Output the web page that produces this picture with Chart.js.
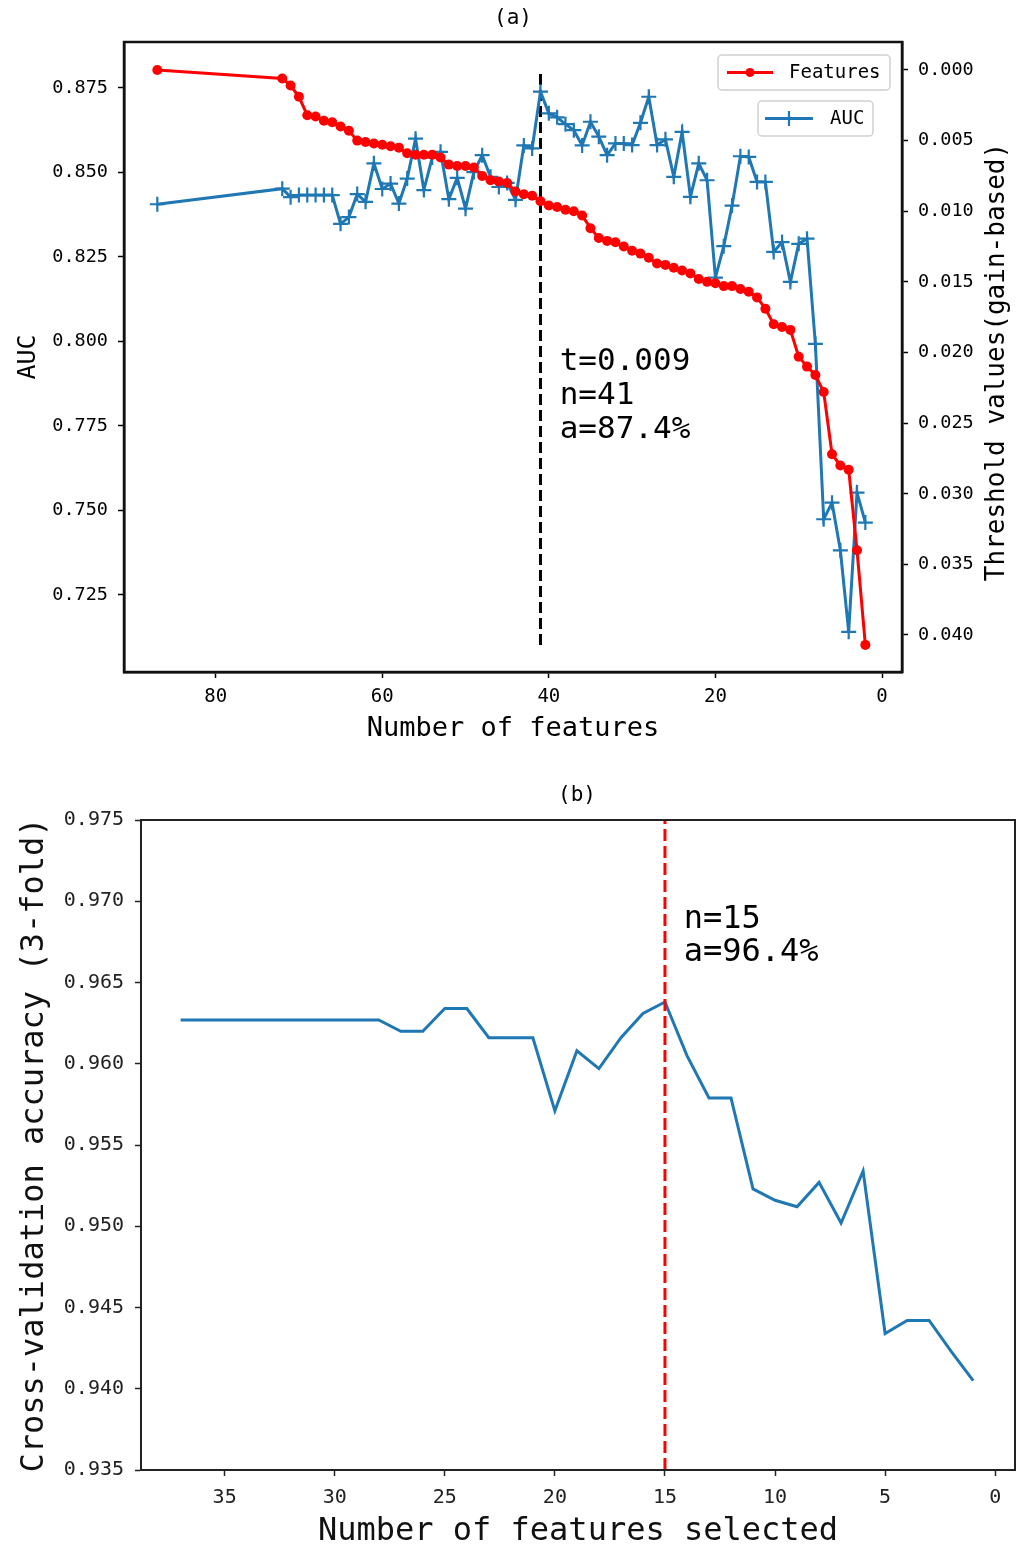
<!DOCTYPE html>
<html>
<head>
<meta charset="utf-8">
<script src="https://cdn.jsdelivr.net/npm/chart.js@4.4.0/dist/chart.umd.min.js"></script>
<style>
  html, body { margin: 0; padding: 0; background: #fff; }
  #wrap { position: relative; width: 1027px; height: 1548px; }
  #top-chart { position: absolute; left: 0; top: 0; }
  #bottom-chart { position: absolute; left: 0; top: 770px; }
</style>
</head>
<body>
<div id="wrap">
  <canvas id="top-chart" width="1027" height="760"></canvas>
  <canvas id="bottom-chart" width="1027" height="778"></canvas>
</div>
<script>
// (a) feature-importance threshold sweep, (b) RFE cross-validation curve

// --- (a) data ---
const featureCounts = [87, 72, 71, 70, 69, 68, 67, 66, 65, 64, 63, 62, 61, 60, 59, 58, 57, 56, 55, 54,
  53, 52, 51, 50, 49, 48, 47, 46, 45, 44, 43, 42, 41, 40, 39, 38, 37, 36, 35, 34,
  33, 32, 31, 30, 29, 28, 27, 26, 25, 24, 23, 22, 21, 20, 19, 18, 17, 16, 15, 14,
  13, 12, 11, 10, 9, 8, 7, 6, 5, 4, 3, 2];

// threshold values (gain-based), right axis
const thresholds = [0.0000, 0.0006, 0.0011, 0.0019, 0.0032, 0.0033, 0.0036, 0.0037, 0.0040, 0.0043,
  0.0050, 0.0051, 0.0052, 0.0053, 0.0054, 0.0055, 0.0059, 0.0060, 0.0060, 0.0060,
  0.0062, 0.0067, 0.0068, 0.0068, 0.0069, 0.0075, 0.0078, 0.0079, 0.0080, 0.0086,
  0.0088, 0.0089, 0.0093, 0.0096, 0.0097, 0.0099, 0.0100, 0.0103, 0.0112, 0.0119,
  0.0121, 0.0122, 0.0125, 0.0128, 0.0130, 0.0133, 0.0137, 0.0138, 0.0140, 0.0142,
  0.0144, 0.0148, 0.0150, 0.0151, 0.0153, 0.0153, 0.0155, 0.0157, 0.0161, 0.0169,
  0.0180, 0.0182, 0.0184, 0.0203, 0.0210, 0.0216, 0.0228, 0.0272, 0.0280, 0.0283,
  0.0340, 0.0407];

// AUC, left axis
const aucValues = [0.8406, 0.8452, 0.8427, 0.8433, 0.8433, 0.8433, 0.8433, 0.8433, 0.8348, 0.8368,
  0.8436, 0.8413, 0.8527, 0.8451, 0.8467, 0.8408, 0.8482, 0.8600, 0.8448, 0.8544,
  0.8561, 0.8421, 0.8484, 0.8393, 0.8501, 0.8551, 0.8487, 0.8457, 0.8469, 0.8419,
  0.8580, 0.8571, 0.8739, 0.8675, 0.8663, 0.8643, 0.8625, 0.8580, 0.8650, 0.8606,
  0.8551, 0.8586, 0.8586, 0.8581, 0.8647, 0.8724, 0.8581, 0.8598, 0.8487, 0.8620,
  0.8428, 0.8527, 0.8477, 0.8189, 0.8282, 0.8402, 0.8548, 0.8546, 0.8472, 0.8472,
  0.8265, 0.8294, 0.8176, 0.8289, 0.8304, 0.7993, 0.7474, 0.7523, 0.7382, 0.7141,
  0.7553, 0.7464];

const cutX = [41, 41];
const cutAuc = [0.7102, 0.8794];
const topXTicks = [80, 60, 40, 20, 0];
const aucTicks = [0.725, 0.750, 0.775, 0.800, 0.825, 0.850, 0.875];
const thresholdTicks = [0.000, 0.005, 0.010, 0.015, 0.020, 0.025, 0.030, 0.035, 0.040];
const topNote = ['t=0.009', 'n=41', 'a=87.4%'];

// --- (b) data ---
const cvFeatures = [37, 36, 35, 34, 33, 32, 31, 30, 29, 28, 27, 26, 25, 24, 23, 22, 21, 20, 19,
  18, 17, 16, 15, 14, 13, 12, 11, 10, 9, 8, 7, 6, 5, 4, 3, 2, 1];
const cvAccuracy = [0.9627, 0.9627, 0.9627, 0.9627, 0.9627, 0.9627, 0.9627, 0.9627, 0.9627, 0.9627,
  0.9620, 0.9620, 0.9634, 0.9634, 0.9616, 0.9616, 0.9616, 0.9571, 0.9608,
  0.9597, 0.9616, 0.9631, 0.9638, 0.9605, 0.9579, 0.9579, 0.9523, 0.9516, 0.9512,
  0.9527, 0.9502, 0.9534, 0.9434, 0.9442, 0.9442, 0.9423, 0.9405];
const bestX = [15, 15];
const bestY = [0.935, 0.975];
const bottomXTicks = [35, 30, 25, 20, 15, 10, 5, 0];
const accTicks = [0.935, 0.940, 0.945, 0.950, 0.955, 0.960, 0.965, 0.970, 0.975];
const bottomNote = ['n=15', 'a=96.4%'];

const MONO = "'DejaVu Sans Mono', monospace";
Chart.defaults.font.family = MONO;

const toPoints = (xs, ys) => xs.map((x, i) => ({ x: x, y: ys[i] }));
const fixedTicks = list => scale => { scale.ticks = list.map(v => ({ value: v })); };

// box round the plot like matplotlib
function framePlugin(color, width) {
  return {
    id: 'frame',
    afterDraw(chart) {
      const a = chart.chartArea, ctx = chart.ctx;
      ctx.save();
      ctx.strokeStyle = color;
      ctx.lineWidth = width;
      ctx.strokeRect(a.left, a.top, a.right - a.left, a.bottom - a.top);
      ctx.restore();
    }
  };
}

function drawNote(ctx, lines, x, y, size, step) {
  ctx.save();
  ctx.fillStyle = '#000';
  ctx.font = size + 'px ' + MONO;
  ctx.textAlign = 'left';
  ctx.textBaseline = 'middle';
  lines.forEach((t, i) => ctx.fillText(t, x, y + i * step));
  ctx.restore();
}

const topExtras = {
  id: 'topExtras',
  afterDraw(chart) {
    const ctx = chart.ctx;
    const ds = chart.data.datasets;
    ctx.save();
    // panel title
    ctx.fillStyle = '#000';
    ctx.font = '21px ' + MONO;
    ctx.textAlign = 'center';
    ctx.textBaseline = 'middle';
    ctx.fillText('(a)', 513, 19);

    // right axis title reads bottom to top
    ctx.save();
    ctx.translate(997, 362);
    ctx.rotate(-Math.PI / 2);
    ctx.font = '26px ' + MONO;
    ctx.fillText('Threshold values(gain-based)', 0, 0);
    ctx.restore();

    // two separate legends, one per axis
    function box(x, y, w, h) {
      ctx.beginPath();
      ctx.roundRect(x, y, w, h, 4);
      ctx.fillStyle = 'rgba(255,255,255,0.85)';
      ctx.fill();
      ctx.strokeStyle = '#d0d0d0';
      ctx.lineWidth = 1.5;
      ctx.stroke();
    }
    ctx.font = '19px ' + MONO;
    ctx.textAlign = 'left';

    box(718, 55, 172, 35);
    ctx.strokeStyle = ds[0].borderColor;
    ctx.lineWidth = 3;
    ctx.beginPath(); ctx.moveTo(727, 72.5); ctx.lineTo(773, 72.5); ctx.stroke();
    ctx.fillStyle = ds[0].borderColor;
    ctx.beginPath(); ctx.arc(750, 72.5, 4.5, 0, Math.PI * 2); ctx.fill();
    ctx.fillStyle = '#000';
    ctx.fillText(ds[0].label, 789, 73);

    box(758, 101, 115, 35);
    ctx.strokeStyle = ds[1].borderColor;
    ctx.lineWidth = 3;
    ctx.beginPath(); ctx.moveTo(765, 118.5); ctx.lineTo(813, 118.5); ctx.stroke();
    ctx.lineWidth = 2.2;
    ctx.beginPath();
    ctx.moveTo(782, 118.5); ctx.lineTo(796, 118.5);
    ctx.moveTo(789, 111); ctx.lineTo(789, 126);
    ctx.stroke();
    ctx.fillStyle = '#000';
    ctx.fillText(ds[1].label, 830, 119);
    ctx.restore();

    drawNote(ctx, topNote, chart.scales.x.getPixelForValue(38.7),
      chart.scales.y.getPixelForValue(0.7939), 31, 34);
  }
};

const bottomExtras = {
  id: 'bottomExtras',
  afterDraw(chart) {
    const ctx = chart.ctx;
    ctx.save();
    ctx.fillStyle = '#000';
    ctx.font = '21px ' + MONO;
    ctx.textAlign = 'center';
    ctx.textBaseline = 'middle';
    ctx.fillText('(b)', 577, 26);
    ctx.restore();
    drawNote(ctx, bottomNote, chart.scales.x.getPixelForValue(14.15),
      chart.scales.y.getPixelForValue(0.96885), 32, 33);
  }
};

// ---------- chart (a) ----------
new Chart(document.getElementById('top-chart'), {
  type: 'line',
  data: {
    datasets: [
      {
        label: 'Features',
        data: toPoints(featureCounts, thresholds),
        yAxisID: 'yT',
        borderColor: '#ff0000',
        backgroundColor: '#ff0000',
        borderWidth: 3,
        pointStyle: 'circle',
        pointRadius: 5,
        pointBorderWidth: 0,
        tension: 0
      },
      {
        label: 'AUC',
        data: toPoints(featureCounts, aucValues),
        yAxisID: 'y',
        borderColor: '#1f77b4',
        backgroundColor: '#1f77b4',
        borderWidth: 3,
        pointStyle: 'cross',
        pointRadius: 7.5,
        pointBorderWidth: 2.2,
        tension: 0
      },
      {
        label: 'cut',
        data: toPoints(cutX, cutAuc),
        yAxisID: 'y',
        borderColor: '#000',
        borderDash: [11, 5],
        borderWidth: 3,
        pointRadius: 0
      }
    ]
  },
  options: {
    responsive: false,
    animation: false,
    layout: { padding: { top: 42, left: 0, right: 0, bottom: 0 } },
    plugins: { legend: { display: false }, tooltip: { enabled: false } },
    scales: {
      x: {
        type: 'linear',
        reverse: true,
        min: -2.4,
        max: 91,
        afterBuildTicks: fixedTicks(topXTicks),
        afterFit: s => { s.height = 88; },
        grid: { drawOnChartArea: false, tickLength: 6, color: '#000', tickWidth: 1.5 },
        border: { color: '#000', width: 2.5 },
        ticks: { color: '#000', font: { size: 19 }, padding: 8, maxRotation: 0, autoSkip: false,
          callback: v => String(v) },
        title: { display: true, text: 'Number of features', color: '#000',
          font: { size: 27, lineHeight: 1 }, padding: { bottom: 18 } }
      },
      y: {
        position: 'left',
        min: 0.7022,
        max: 0.8886,
        afterBuildTicks: fixedTicks(aucTicks),
        afterFit: s => { s.width = 124; },
        grid: { drawOnChartArea: false, tickLength: 6, color: '#000', tickWidth: 1.5 },
        border: { color: '#000', width: 2.5 },
        ticks: { color: '#000', font: { size: 18.5 }, padding: 10, autoSkip: false,
          callback: v => v.toFixed(3) },
        title: { display: true, text: 'AUC', color: '#000',
          font: { size: 25, lineHeight: 1 }, padding: { top: 16 } }
      },
      yT: {
        position: 'right',
        reverse: true,
        min: -0.00198,
        max: 0.04262,
        afterBuildTicks: fixedTicks(thresholdTicks),
        afterFit: s => { s.width = 125; },
        grid: { drawOnChartArea: false, tickLength: 6, color: '#000', tickWidth: 1.5 },
        border: { color: '#000', width: 2.5 },
        ticks: { color: '#000', font: { size: 18.5 }, padding: 10, autoSkip: false,
          callback: v => v.toFixed(3) }
      }
    }
  },
  plugins: [framePlugin('#111', 2.5), topExtras]
});

// ---------- chart (b) ----------
new Chart(document.getElementById('bottom-chart'), {
  type: 'line',
  data: {
    datasets: [
      {
        label: 'best',
        data: toPoints(bestX, bestY),
        borderColor: '#ff0000',
        borderDash: [12, 5],
        borderWidth: 3,
        pointRadius: 0
      },
      {
        label: 'CV accuracy',
        data: toPoints(cvFeatures, cvAccuracy),
        borderColor: '#1f77b4',
        borderWidth: 3,
        pointRadius: 0,
        tension: 0
      }
    ]
  },
  options: {
    responsive: false,
    animation: false,
    layout: { padding: { top: 50, left: 0, right: 12, bottom: 0 } },
    plugins: { legend: { display: false }, tooltip: { enabled: false } },
    scales: {
      x: {
        type: 'linear',
        reverse: true,
        min: -0.9,
        max: 38.8,
        afterBuildTicks: fixedTicks(bottomXTicks),
        afterFit: s => { s.height = 78; },
        grid: { drawOnChartArea: false, tickLength: 6, color: '#222', tickWidth: 1.5 },
        border: { color: '#222', width: 2 },
        ticks: { color: '#222', font: { size: 20 }, padding: 10, maxRotation: 0, autoSkip: false,
          callback: v => String(v) },
        title: { display: true, text: 'Number of features selected', color: '#111',
          font: { size: 32, lineHeight: 1 }, padding: { bottom: 0 } }
      },
      y: {
        min: 0.935,
        max: 0.975,
        afterBuildTicks: fixedTicks(accTicks),
        afterFit: s => { s.width = 141; },
        grid: { drawOnChartArea: false, tickLength: 6, color: '#222', tickWidth: 1.5 },
        border: { color: '#222', width: 2 },
        ticks: { color: '#222', font: { size: 20 }, padding: 11, autoSkip: false,
          callback: v => v.toFixed(3) },
        title: { display: true, text: 'Cross-validation accuracy (3-fold)', color: '#111',
          font: { size: 32, lineHeight: 1 }, padding: { top: 19 } }
      }
    }
  },
  plugins: [framePlugin('#222', 2), bottomExtras]
});
</script>
</body>
</html>
